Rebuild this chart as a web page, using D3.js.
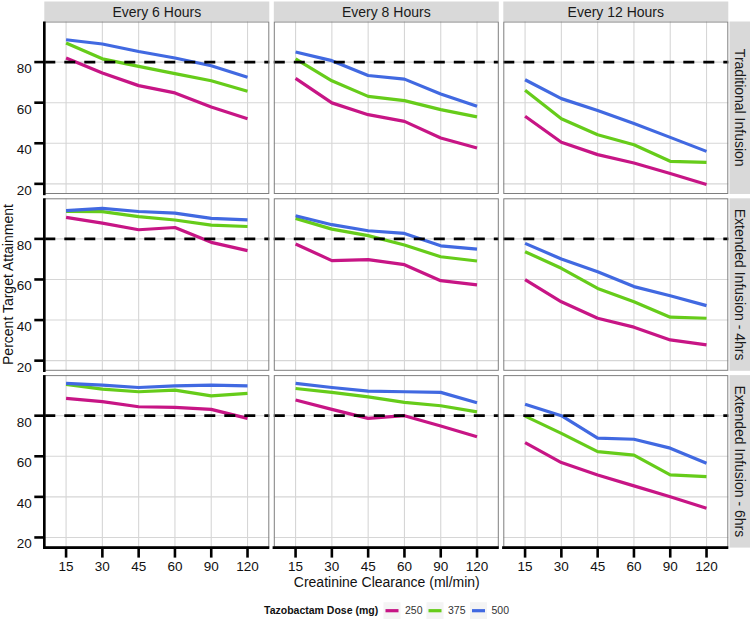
<!DOCTYPE html>
<html>
<head>
<meta charset="utf-8">
<script src="https://cdn.jsdelivr.net/npm/d3@7"></script>
<style>
html,body{margin:0;padding:0;background:#fff;}
svg{display:block;font-family:"Liberation Sans",Arial,sans-serif;}
</style>
</head>
<body>
<svg id="chart" width="750" height="619"></svg>
<script>
// ---------- data ----------
const clearance = ["15", "30", "45", "60", "90", "120"];
const intervals = ["Every 6 Hours", "Every 8 Hours", "Every 12 Hours"];
const infusions = ["Traditional Infusion", "Extended Infusion - 4hrs", "Extended Infusion - 6hrs"];
const doses = ["250", "375", "500"];
const yTicks = [20, 40, 60, 80];
const target = 80;

// each array: [q6h values, q8h values, q12h values], values across clearance 15..120
const traditional_250 = [
  [82, 74.6, 68.4, 64.8, 57.9, 52.1],
  [72, 59.9, 54.1, 50.8, 42.6, 37.7],
  [53.3, 40.5, 34.4, 30.3, 25.1, 19.7]
];
const traditional_375 = [
  [89.4, 81.6, 77.9, 74.3, 70.8, 65.6],
  [81.6, 70.8, 63.1, 61, 56.6, 53],
  [66.1, 52.1, 44.2, 39.3, 31.1, 30.6]
];
const traditional_500 = [
  [91, 88.9, 85.2, 82, 78.2, 72.5],
  [85, 80.7, 73.4, 71.6, 64.3, 58.2],
  [71.3, 62, 56.1, 49.7, 42.9, 36]
];
const extended4_250 = [
  [90.6, 87.8, 84.5, 85.6, 78.3, 74.2],
  [77.5, 69.3, 69.8, 67.3, 59.4, 57.3],
  [59.9, 49, 40.9, 36.5, 30.2, 27.8]
];
const extended4_375 = [
  [93.5, 93.4, 91, 89.3, 86.8, 86.1],
  [90.1, 84.8, 81.6, 77, 71.2, 69.1],
  [73.7, 65.5, 55.6, 49, 41.4, 40.9]
];
const extended4_500 = [
  [93.9, 95, 93.5, 92.7, 90.1, 89.4],
  [91.4, 87, 84, 82.7, 76.6, 75],
  [77.8, 70.1, 63.8, 56.5, 52, 47.1]
];
const extended6_250 = [
  [88.5, 86.9, 84.4, 84.1, 83.1, 78.7],
  [87.7, 83.1, 78.7, 80, 74.9, 69.6],
  [66.7, 56.9, 50.8, 45.4, 40.1, 34.4]
];
const extended6_375 = [
  [95.4, 93.1, 91.8, 92.6, 89.8, 91],
  [93.4, 91.5, 89.3, 86.6, 84.9, 81.9],
  [79.8, 71.3, 62.3, 60.6, 50.8, 50]
];
const extended6_500 = [
  [95.9, 95.1, 93.9, 94.7, 95.1, 94.7],
  [95.9, 93.9, 92.1, 91.8, 91.5, 86.4],
  [85.6, 80, 68.9, 68.4, 64, 56.6]
];

const rowsData = [
  [traditional_250, traditional_375, traditional_500],
  [extended4_250, extended4_375, extended4_500],
  [extended6_250, extended6_375, extended6_500]
];
const doseColors = ["#C71585", "#66CC1A", "#4169E1"];

// ---------- layout ----------
const svg = d3.select("#chart");
const panelW = 225, panelH = 172.5;
const colX = [44.3, 273.8, 503.3];
const rowY = [21.5, 198.3, 375.1];
const stripTop = 1.5;
const stripRightX = 729, stripRightW = 20.5;

const x = d3.scalePoint().domain(clearance).range([0, panelW]).padding(0.6);
const y = d3.scaleLinear().domain([15, 100]).range([panelH, 0]);

// top strips
intervals.forEach((lab, c) => {
  svg.append("rect").attr("x", colX[c]).attr("y", stripTop)
    .attr("width", panelW).attr("height", rowY[0] - stripTop - 0.5).attr("fill", "#D9D9D9");
  svg.append("text").attr("x", colX[c] + panelW / 2).attr("y", (stripTop + rowY[0]) / 2)
    .attr("text-anchor", "middle").attr("dominant-baseline", "central")
    .attr("font-size", 14).attr("fill", "#1a1a1a").text(lab);
});

// right strips
infusions.forEach((lab, r) => {
  svg.append("rect").attr("x", stripRightX + 0.5).attr("y", rowY[r])
    .attr("width", stripRightW).attr("height", panelH).attr("fill", "#D9D9D9");
  const cx = stripRightX + 0.5 + stripRightW / 2, cy = rowY[r] + panelH / 2;
  svg.append("text").attr("transform", `translate(${cx},${cy}) rotate(90)`)
    .attr("text-anchor", "middle").attr("dominant-baseline", "central")
    .attr("font-size", 14).attr("fill", "#1a1a1a").text(lab);
});

const line = d3.line().x((d, i) => x(clearance[i])).y(d => y(d));

rowsData.forEach((rowSeries, r) => {
  intervals.forEach((_, c) => {
    const g = svg.append("g").attr("transform", `translate(${colX[c]},${rowY[r]})`);
    g.append("rect").attr("width", panelW).attr("height", panelH).attr("fill", "#fff");
    // gridlines
    g.selectAll(".hg").data(yTicks).enter().append("line")
      .attr("x1", 0).attr("x2", panelW).attr("y1", d => y(d)).attr("y2", d => y(d))
      .attr("stroke", "#D6D6D6").attr("stroke-width", 1.1);
    g.selectAll(".vg").data(clearance).enter().append("line")
      .attr("y1", 0).attr("y2", panelH).attr("x1", d => x(d)).attr("x2", d => x(d))
      .attr("stroke", "#D6D6D6").attr("stroke-width", 1.1);
    // series
    rowSeries.forEach((seriesSet, k) => {
      g.append("path").datum(seriesSet[c]).attr("d", line)
        .attr("fill", "none").attr("stroke", doseColors[k])
        .attr("stroke-width", 3.2).attr("stroke-linejoin", "round");
    });
    // target line
    g.append("line").attr("x1", 0).attr("x2", panelW)
      .attr("y1", y(target)).attr("y2", y(target))
      .attr("stroke", "#000").attr("stroke-width", 2.8).attr("stroke-dasharray", "11,9");
    // border
    g.append("rect").attr("x", 0.5).attr("y", 0.5).attr("width", panelW - 1).attr("height", panelH - 1)
      .attr("fill", "none").attr("stroke", "#7F7F7F").attr("stroke-width", 1);
  });
  // y axis
  const ya = svg.append("g").attr("transform", `translate(${colX[0]},${rowY[r]})`);
  ya.append("line").attr("x1", 0).attr("x2", 0).attr("y1", 0).attr("y2", panelH + 1.2)
    .attr("stroke", "#000").attr("stroke-width", 2.6);
  ya.selectAll(".yt").data(yTicks).enter().append("line")
    .attr("x1", -10).attr("x2", 0).attr("y1", d => y(d)).attr("y2", d => y(d))
    .attr("stroke", "#000").attr("stroke-width", 2.6);
  ya.selectAll(".yl").data(yTicks).enter().append("text")
    .attr("x", -12.5).attr("y", d => y(d) + 11)
    .attr("text-anchor", "end").attr("font-size", 13.5).attr("fill", "#111").text(d => d);
});

// x axes
intervals.forEach((_, c) => {
  const xa = svg.append("g").attr("transform", `translate(${colX[c]},${rowY[2] + panelH})`);
  xa.append("line").attr("x1", -1.2).attr("x2", panelW).attr("y1", 0).attr("y2", 0)
    .attr("stroke", "#000").attr("stroke-width", 2.6);
  xa.selectAll(".xt").data(clearance).enter().append("line")
    .attr("x1", d => x(d)).attr("x2", d => x(d)).attr("y1", 0).attr("y2", 10)
    .attr("stroke", "#000").attr("stroke-width", 2.6);
  xa.selectAll(".xl").data(clearance).enter().append("text")
    .attr("x", d => x(d)).attr("y", 23.6)
    .attr("text-anchor", "middle").attr("font-size", 13.5).attr("fill", "#111").text(d => d);
});

// axis titles
svg.append("text").attr("x", (colX[0] + colX[2] + panelW) / 2 + 0.5).attr("y", 587)
  .attr("text-anchor", "middle").attr("font-size", 14).attr("fill", "#111")
  .text("Creatinine Clearance (ml/min)");
svg.append("text").attr("transform", `translate(13,${(rowY[0] + rowY[2] + panelH) / 2}) rotate(-90)`)
  .attr("text-anchor", "middle").attr("font-size", 14).attr("fill", "#111")
  .text("Percent Target Attainment");

// legend
const lg = svg.append("g").attr("transform", "translate(0,0)");
const legY = 610.7;
lg.append("text").attr("x", 264).attr("y", legY + 3.7).attr("font-size", 10.5)
  .attr("font-weight", "bold").attr("fill", "#111").text("Tazobactam Dose (mg)");
const keyX = [383.5, 426.5, 470];
doses.forEach((d, k) => {
  lg.append("rect").attr("x", keyX[k]).attr("y", legY - 8.5).attr("width", 17).attr("height", 17)
    .attr("fill", "#F4F4F4");
  lg.append("line").attr("x1", keyX[k] + 2).attr("x2", keyX[k] + 15)
    .attr("y1", legY).attr("y2", legY).attr("stroke", doseColors[k]).attr("stroke-width", 3.2);
  lg.append("text").attr("x", keyX[k] + 21.5).attr("y", legY + 3.7).attr("font-size", 10.5)
    .attr("fill", "#333").text(d);
});
</script>
</body>
</html>
